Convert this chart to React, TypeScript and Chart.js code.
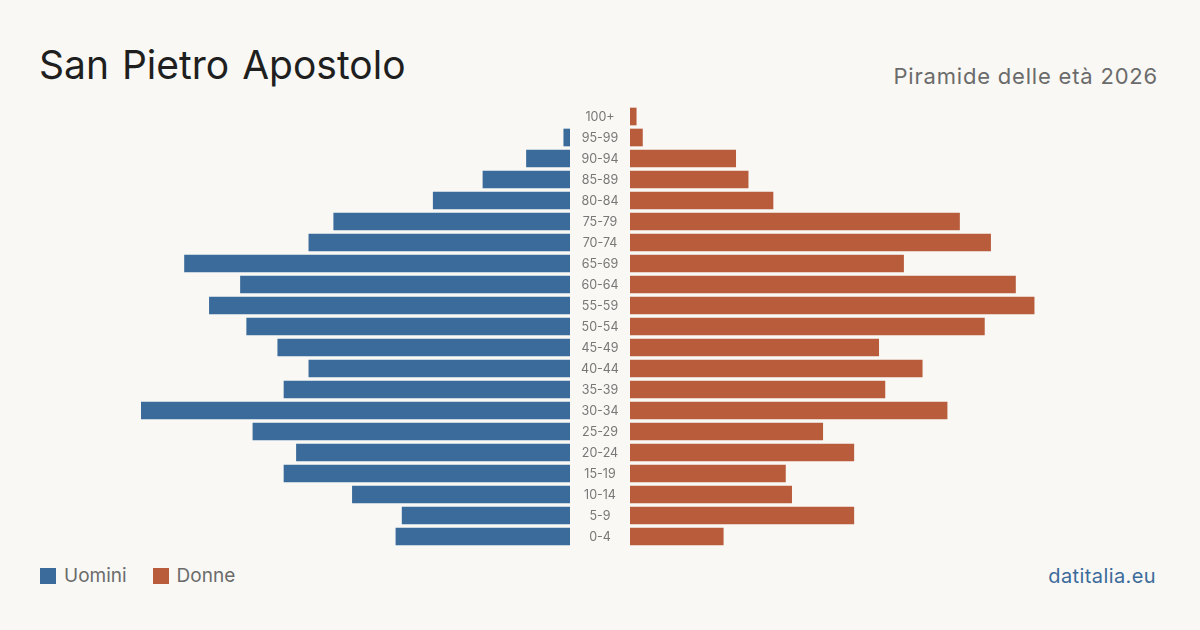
import React, { useEffect, useRef } from "react";
import { Chart, registerables } from "chart.js";

Chart.register(...registerables);

// Age groups, youngest first
const ageGroups = [
  "0-4", "5-9", "10-14", "15-19", "20-24", "25-29", "30-34", "35-39", "40-44", "45-49",
  "50-54", "55-59", "60-64", "65-69", "70-74", "75-79", "80-84", "85-89", "90-94", "95-99", "100+",
];

// Residents per age group
const men = [28, 27, 35, 46, 44, 51, 69, 46, 42, 47, 52, 58, 53, 62, 42, 38, 22, 14, 7, 1, 0];
const women = [15, 36, 26, 25, 36, 31, 51, 41, 47, 40, 57, 65, 62, 44, 58, 53, 23, 19, 17, 2, 1];

const axisMax = Math.max(...men, ...women);

const BLUE = "#3b6b9b";
const ORANGE = "#b95c3c";
const BG = "#f9f8f4";
const FONT = "Inter, 'Noto Sans', sans-serif";

// Draws the age-group labels in the gap left of the women's bars
const ageLabelsPlugin = {
  id: "ageLabels",
  afterDatasetsDraw(chart: any) {
    const { ctx, chartArea, scales } = chart;
    const y = scales.y;
    ctx.save();
    ctx.font = `12.5px ${FONT}`;
    ctx.fillStyle = "#777";
    ctx.textAlign = "center";
    ctx.textBaseline = "middle";
    ageGroups.forEach((label, i) => {
      ctx.fillText(label, chartArea.left - 30, y.getPixelForValue(i) + 0.5);
    });
    ctx.restore();
  },
};

function PyramidSide({ values, color, reverse, label, padLeft, plugins }: any) {
  const ref = useRef<HTMLCanvasElement>(null);
  useEffect(() => {
    const chart = new Chart(ref.current!, {
      type: "bar",
      data: {
        labels: ageGroups,
        datasets: [
          {
            label,
            data: values,
            // empty groups get no visible sliver
            backgroundColor: (c: any) => (c.raw ? color : "rgba(0,0,0,0)"),
            borderWidth: 0,
            barThickness: 17,
          },
        ],
      },
      options: {
        indexAxis: "y",
        responsive: false,
        animation: false,
        layout: { padding: { left: padLeft, right: 0, top: 0, bottom: 0 } },
        plugins: { legend: { display: false }, tooltip: { enabled: false } },
        scales: {
          x: { display: false, min: 0, max: axisMax, reverse },
          y: { display: false, reverse: true },
        },
      },
      plugins: plugins || [],
    });
    return () => chart.destroy();
  }, []);
  return <canvas ref={ref} width={429 + padLeft} height={441} />;
}

export default function App() {
  return (
    <div
      style={{
        position: "absolute",
        left: 0,
        top: 0,
        width: 1200,
        height: 630,
        background: BG,
        fontFamily: FONT,
        overflow: "hidden",
      }}
    >
      <div
        style={{
          position: "absolute",
          left: 39,
          top: 38,
          fontSize: 39,
          color: "#1f1f1f",
          lineHeight: "54px",
          wordSpacing: "2px",
        }}
      >
        San Pietro Apostolo
      </div>
      <div
        style={{
          position: "absolute",
          right: 42,
          top: 61,
          fontSize: 22,
          color: "#6b6b6b",
          lineHeight: "30px",
          letterSpacing: "0.8px",
        }}
      >
        Piramide delle età 2026
      </div>

      <div style={{ position: "absolute", left: 141, top: 106 }}>
        <PyramidSide values={men} color={BLUE} reverse={true} label="Uomini" padLeft={0} />
      </div>
      <div style={{ position: "absolute", left: 570, top: 106 }}>
        <PyramidSide
          values={women}
          color={ORANGE}
          reverse={false}
          label="Donne"
          padLeft={60}
          plugins={[ageLabelsPlugin]}
        />
      </div>

      <div
        style={{
          position: "absolute",
          left: 40,
          top: 562,
          display: "flex",
          alignItems: "center",
          fontSize: 19,
          color: "#6b6b6b",
          lineHeight: "28px",
        }}
      >
        <span style={{ width: 16, height: 16, background: BLUE, display: "inline-block", marginRight: 8 }} />
        <span style={{ marginRight: 26 }}>Uomini</span>
        <span style={{ width: 16, height: 16, background: ORANGE, display: "inline-block", marginRight: 8 }} />
        <span>Donne</span>
      </div>

      <div
        style={{
          position: "absolute",
          right: 44,
          top: 562,
          fontSize: 20,
          color: "#3b6b9b",
          lineHeight: "28px",
          letterSpacing: "0.4px",
        }}
      >
        datitalia.eu
      </div>
    </div>
  );
}
